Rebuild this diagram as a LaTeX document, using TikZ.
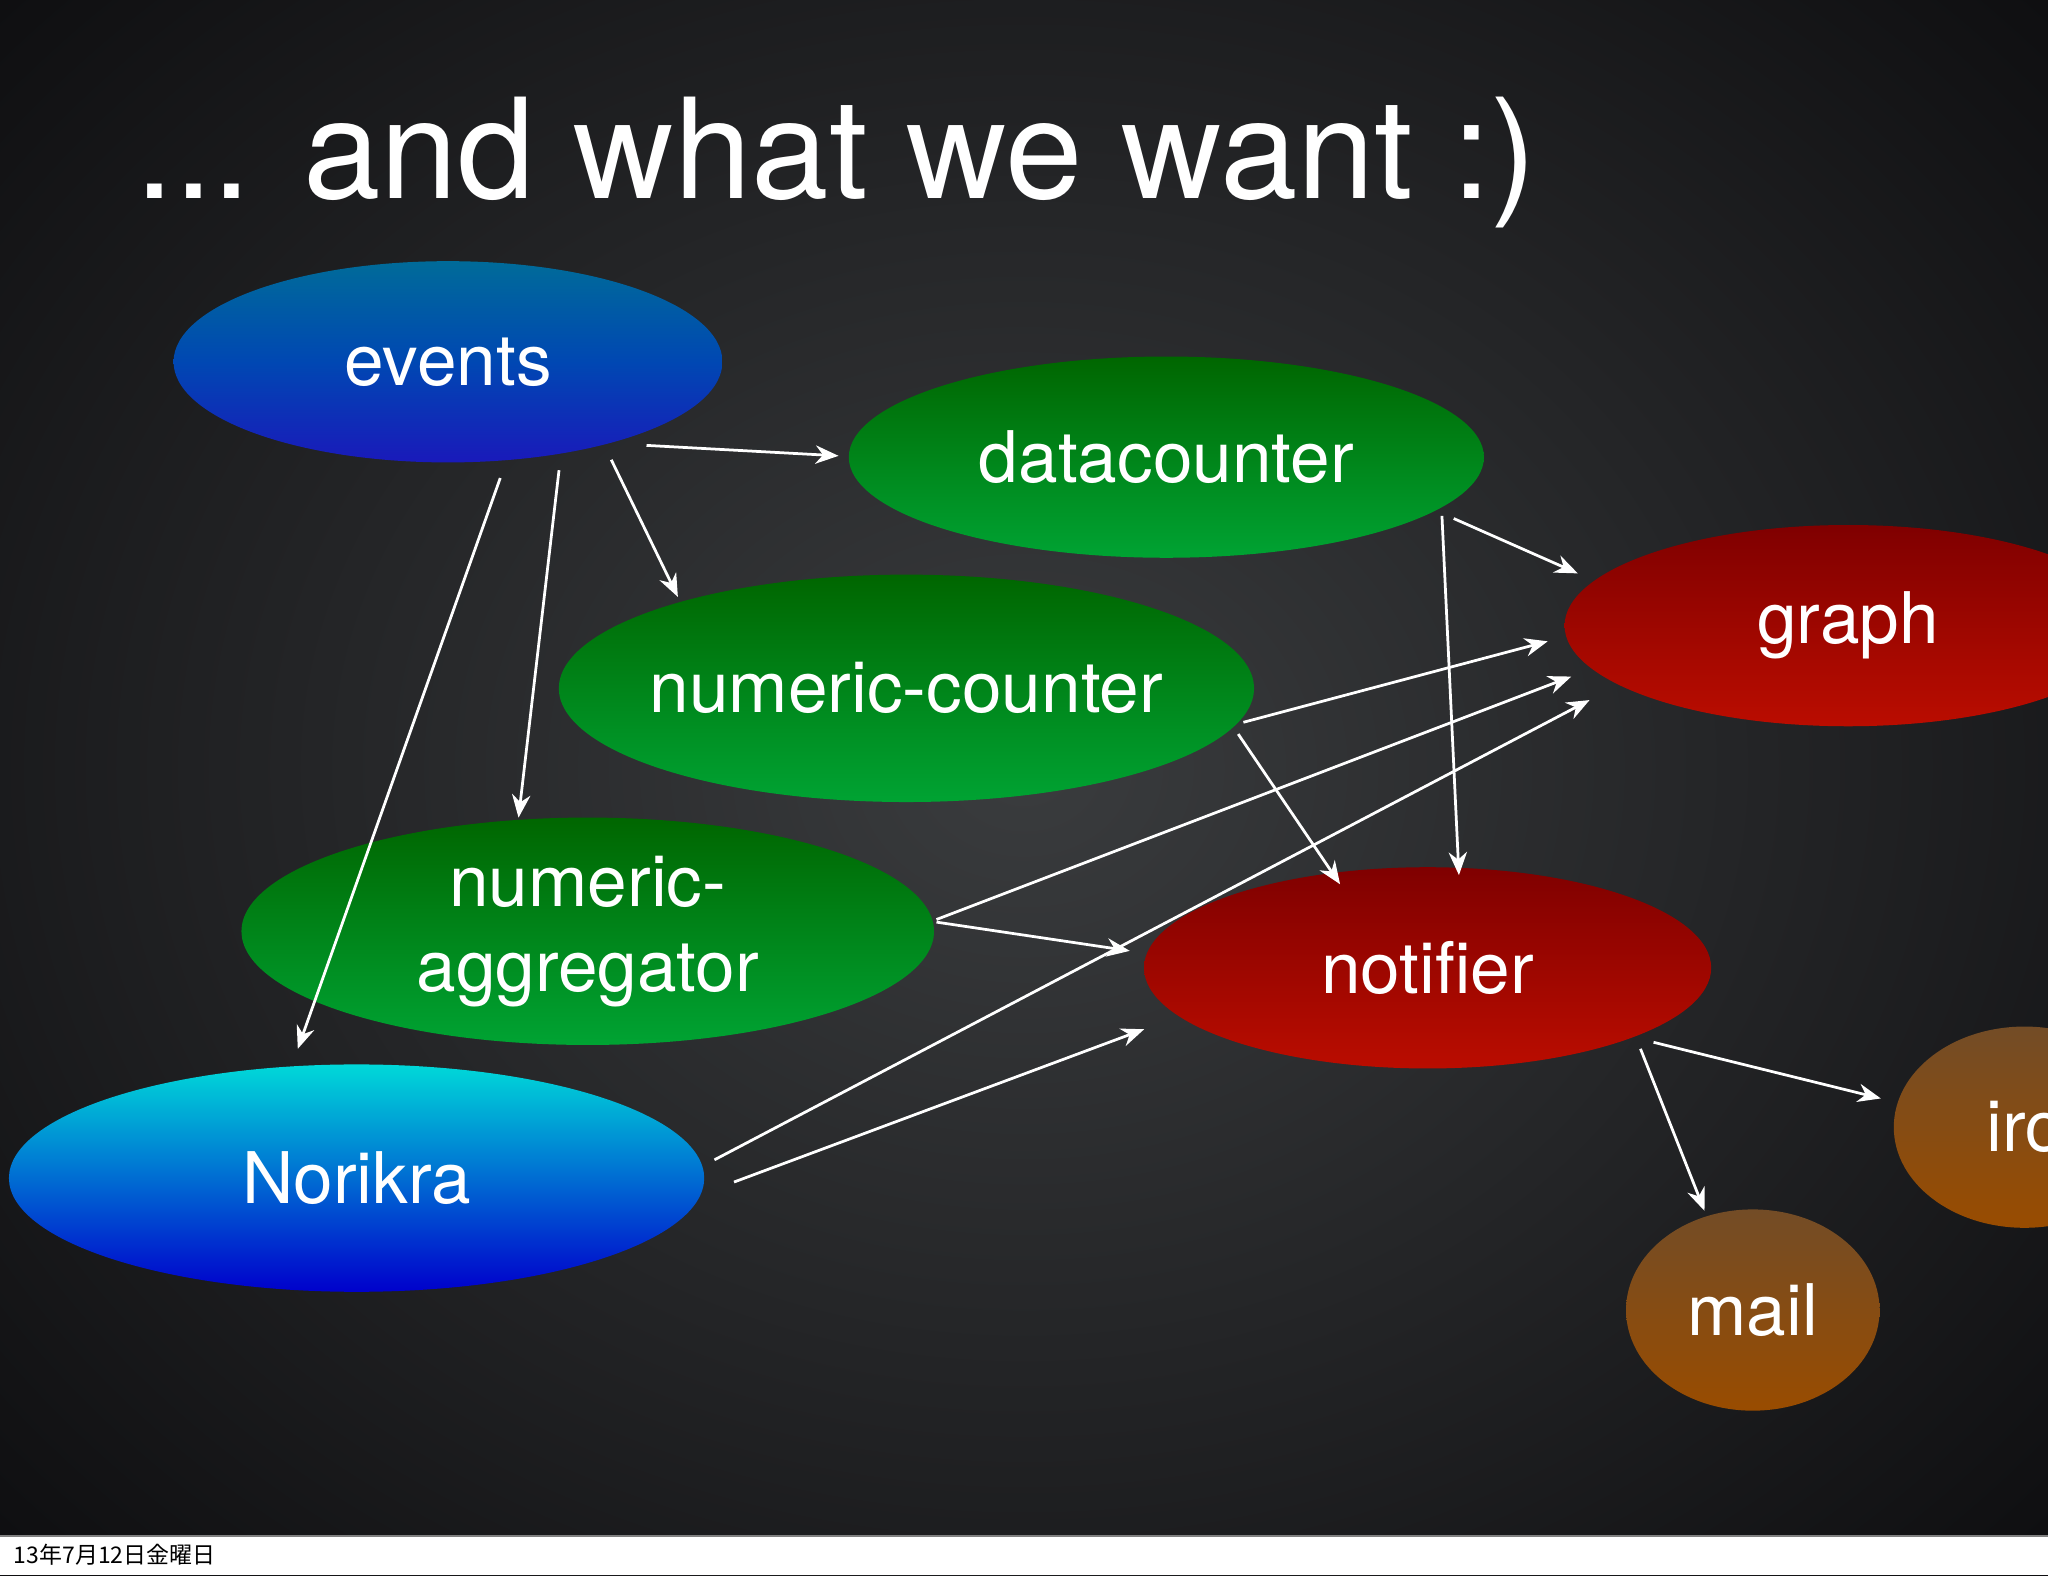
\documentclass[tikz,border=0pt]{standalone}
\usepackage{fontspec}
\setmainfont{TeX Gyre Heros}
\newfontfamily\cjk{Noto Sans CJK JP}
\usetikzlibrary{shapes.geometric,arrows.meta}
\definecolor{bgin}{HTML}{3A3C3E}
\definecolor{bgout}{HTML}{0E0E10}
\begin{document}
\begin{tikzpicture}[x=0.01cm,y=-0.01cm,
  el/.style={ellipse,draw=none,text=white,font=\fontsize{15.5}{18.5}\selectfont,align=center,inner sep=0pt},
  blue/.style={el,top color=blue!30!cyan!60!black,bottom color=blue!70!black!90,middle color=blue!60!cyan!70!black},
  nori/.style={el,top color=cyan!85!black,bottom color=blue!80!black},
  green/.style={el,top color=green!40!black,bottom color=green!55!black!80!cyan},
  red/.style={el,top color=red!50!black,bottom color=red!70!black!90!orange},
  brown/.style={el,top color=brown!60!black,bottom color=orange!60!black},
  arr/.style={draw=white,line width=0.6pt,-{Stealth[length=5pt,width=4pt]}}]
\useasboundingbox (0,0) rectangle (1568,1206);
\clip (0,0) rectangle (1568,1206);
\shade[inner color=bgin,outer color=bgout] (-300,-300) rectangle (1868,1476);
\fill[white] (0,1176) rectangle (1568,1206);
\draw[gray] (0,1176) -- (1568,1176);
\node[anchor=west,font=\cjk\fontsize{5}{6}\selectfont,text=black,inner sep=0pt] (date) at (10,1190) {13年7月12日金曜日};
\node[anchor=base west,text=white,font=\fontsize{30.3}{36}\selectfont,inner sep=0pt] (title) at (103,152) {... and what we want :)};

\node[blue,minimum width=4.2cm,minimum height=1.54cm] (events) at (343,277) {events};
\node[green,minimum width=4.86cm,minimum height=1.54cm] (dc) at (893,350) {datacounter};
\node[green,minimum width=5.32cm,minimum height=1.74cm,inner sep=-12pt] (nc) at (694,527) {numeric-counter};
\node[green,minimum width=5.3cm,minimum height=1.74cm,inner sep=-10pt] (na) at (450,713) {numeric-\\aggregator};
\node[nori,minimum width=5.32cm,minimum height=1.74cm] (nor) at (273,902) {Norikra};
\node[red,minimum width=4.34cm,minimum height=1.54cm] (graph) at (1415,479) {graph};
\node[red,minimum width=4.34cm,minimum height=1.54cm] (notif) at (1093,741) {notifier};
\node[brown,minimum width=2cm,minimum height=1.54cm] (irc) at (1550,863) {};
\node[text=white,font=\fontsize{15.5}{18.5}\selectfont,anchor=west,inner sep=0pt] (irct) at (1520,863) {irc};
\node[brown,minimum width=1.94cm,minimum height=1.54cm] (mail) at (1342,1003) {mail};

\coordinate (a1) at (495,341); \coordinate (b1) at (642,349);
\coordinate (a2) at (468,352); \coordinate (b2) at (519,457);
\coordinate (a3) at (428,360); \coordinate (b3) at (397,626);
\coordinate (a4) at (383,366); \coordinate (b4) at (228,803);
\coordinate (a5) at (1113,397); \coordinate (b5) at (1208,439);
\coordinate (a6) at (1104,395); \coordinate (b6) at (1117,670);
\coordinate (a7) at (952,553); \coordinate (b7) at (1185,491);
\coordinate (a8) at (948,562); \coordinate (b8) at (1026,677);
\coordinate (a9) at (717,704); \coordinate (b9) at (1203,518);
\coordinate (a10) at (717,706); \coordinate (b10) at (865,728);
\coordinate (a11) at (547,888); \coordinate (b11) at (1217,536);
\coordinate (a12) at (562,905); \coordinate (b12) at (876,788);
\coordinate (a13) at (1266,798); \coordinate (b13) at (1440,841);
\coordinate (a14) at (1256,803); \coordinate (b14) at (1305,927);
\foreach \i in {1,...,14} {\draw[arr] (a\i) -- (b\i);}
\end{tikzpicture}
\end{document}
